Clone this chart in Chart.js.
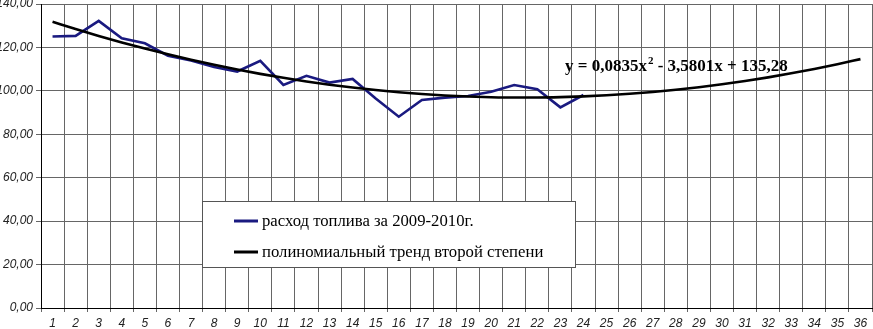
<!DOCTYPE html>
<html><head><meta charset="utf-8">
<script src="https://cdn.jsdelivr.net/npm/chart.js@4.4.0/dist/chart.umd.min.js"></script>
<style>html,body{margin:0;padding:0;background:#fff;}#wrap{width:873px;height:329px;position:relative}</style>
</head><body><div id="wrap"><canvas id="c" width="873" height="329"></canvas></div>
<script>
const categories = ["1","2","3","4","5","6","7","8","9","10","11","12","13","14","15","16","17","18","19","20","21","22","23","24","25","26","27","28","29","30","31","32","33","34","35","36"];
const fuelValues = [125.0, 125.3, 132.2, 124.2, 121.9, 116.2, 114.0, 111.0, 108.9, 113.8, 102.7, 106.9, 103.8, 105.5, 96.5, 88.1, 95.8, 96.9, 97.6, 99.6, 102.7, 100.7, 92.4, 98.1];
const trendValues = [131.78, 128.45, 125.29, 122.30, 119.47, 116.81, 114.31, 111.98, 109.82, 107.83, 106.00, 104.34, 102.85, 101.52, 100.37, 99.37, 98.55, 97.89, 97.40, 97.08, 96.92, 96.93, 97.11, 97.45, 97.97, 98.64, 99.49, 100.50, 101.68, 103.03, 104.54, 106.22, 108.07, 110.08, 112.26, 114.61];
const yTicks = [0, 20, 40, 60, 80, 100, 120, 140];
const seriesLabels = ["расход топлива за 2009-2010г.", "полиномиальный тренд второй степени"];
const equationParts = ["y = 0,0835x", "2", " - 3,5801x + 135,28"];

const seriesColors = ["#1a1a80", "#000000"];

const overlay = {
  id: 'overlay',
  afterDraw(chart) {
    const ctx = chart.ctx;
    ctx.save();
    // legend box
    const bx = 202.5, by = 201.5, bw = 373, bh = 66;
    ctx.fillStyle = '#fff';
    ctx.fillRect(bx, by, bw, bh);
    ctx.strokeStyle = '#555';
    ctx.lineWidth = 1;
    ctx.strokeRect(bx, by, bw, bh);
    ctx.font = '16.7px "Liberation Serif", "Times New Roman", serif';
    ctx.textBaseline = 'middle';
    const rows = [221, 252];
    chart.data.datasets.forEach((ds, i) => {
      ctx.strokeStyle = ds.borderColor;
      ctx.lineWidth = 3;
      ctx.beginPath();
      ctx.moveTo(234, rows[i]);
      ctx.lineTo(258, rows[i]);
      ctx.stroke();
      ctx.fillStyle = '#000';
      ctx.fillText(ds.label, 262, rows[i] + 1);
    });
    // equation
    ctx.textBaseline = 'alphabetic';
    ctx.fillStyle = '#000';
    const big = 'bold 17px "Liberation Serif", "Times New Roman", serif';
    const small = 'bold 11px "Liberation Serif", "Times New Roman", serif';
    let x = 565, y = 71;
    ctx.font = big;
    ctx.fillText(equationParts[0], x, y);
    x += ctx.measureText(equationParts[0]).width + 1;
    ctx.font = small;
    ctx.fillText(equationParts[1], x, y - 7);
    x += ctx.measureText(equationParts[1]).width;
    ctx.font = big;
    ctx.fillText(equationParts[2], x, y);
    ctx.restore();
  }
};

const tickFont = { family: '"Liberation Sans", Arial, sans-serif', style: 'italic', size: 12 };

new Chart(document.getElementById('c'), {
  type: 'line',
  data: {
    labels: categories,
    datasets: [
      { label: seriesLabels[0], data: fuelValues, borderColor: seriesColors[0], borderWidth: 2.6, pointRadius: 0, tension: 0, order: 1, fill: false },
      { label: seriesLabels[1], data: trendValues, borderColor: seriesColors[1], borderWidth: 2.6, pointRadius: 0, cubicInterpolationMode: 'monotone', order: 0, fill: false }
    ]
  },
  options: {
    responsive: false,
    animation: false,
    devicePixelRatio: 1,
    layout: { padding: { top: 4, right: 1, left: 0, bottom: 0 } },
    plugins: { legend: { display: false }, tooltip: { enabled: false } },
    scales: {
      x: {
        offset: true,
        grid: { offset: true, color: '#666', lineWidth: 1, tickLength: 4, drawTicks: true },
        border: { color: '#000', width: 1 },
        ticks: { font: tickFont, color: '#222', padding: 4, maxRotation: 0, autoSkip: false },
        afterFit(s) { s.height = 21; s.paddingLeft = 0; s.paddingRight = 0; }
      },
      y: {
        min: 0, max: 140,
        afterBuildTicks(s) { s.ticks = yTicks.map(v => ({ value: v })); },
        grid: { color: '#666', lineWidth: 1, tickLength: 5 },
        border: { color: '#000', width: 1 },
        ticks: { font: tickFont, color: '#222', padding: 3, callback: v => v.toFixed(2).replace('.', ',') },
        afterFit(s) { s.width = 41; s.paddingTop = 0; s.paddingBottom = 0; }
      }
    }
  },
  plugins: [overlay]
});
</script>
</body></html>
